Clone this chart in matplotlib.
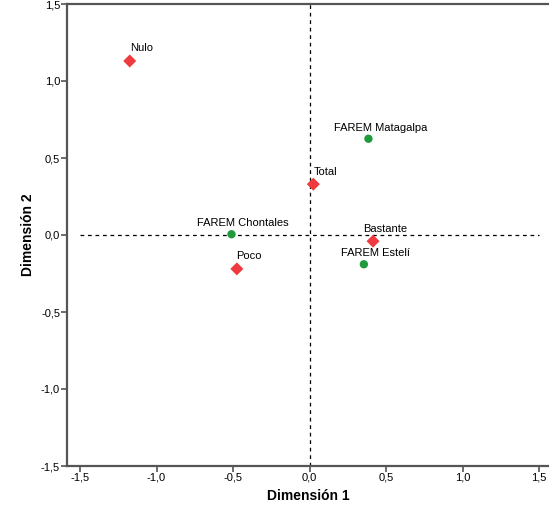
import matplotlib
matplotlib.use("Agg")
import matplotlib.pyplot as plt
from matplotlib.ticker import FuncFormatter

plt.rcParams['font.family'] = ['Liberation Sans', 'DejaVu Sans']

# Row points (red diamonds)
row_labels = ["Nulo", "Total", "Bastante", "Poco"]
row_x = [-1.175, 0.025, 0.415, -0.475]
row_y = [1.13, 0.33, -0.04, -0.22]

# Column points (green circles)
col_labels = ["FAREM Matagalpa", "FAREM Chontales", "FAREM Estelí"]
col_x = [0.385, -0.51, 0.355]
col_y = [0.625, 0.005, -0.19]

ticks = [-1.5, -1.0, -0.5, 0.0, 0.5, 1.0, 1.5]

fig = plt.figure(figsize=(5.49, 5.25), dpi=100)
ax = fig.add_axes([67/549, 59/525, 1 - 67/549, 462/525])

ax.set_xlim(-1.585, 1.565)
ax.set_ylim(-1.5, 1.5)

# reference lines
ax.plot([-1.5, 1.5], [0, 0], ls=(0, (3, 3)), color='black', lw=0.9, zorder=1)
ax.plot([0, 0], [-1.5, 1.5], ls=(0, (3, 3)), color='black', lw=0.9, zorder=1)

ax.scatter(row_x, row_y, marker='D', s=44, color='#ef3b3f', edgecolors='none', zorder=3)
ax.scatter(col_x, col_y, marker='o', s=36, color='#1f9a3c', edgecolors='none', zorder=3)

for lab, x, y in zip(row_labels, row_x, row_y):
    ax.annotate(lab, (x, y), xytext=(8.5, 9), textcoords='offset points',
                ha='center', va='center', fontsize=8, color='black')
for lab, x, y in zip(col_labels, col_x, col_y):
    ax.annotate(lab, (x, y), xytext=(8.5, 8), textcoords='offset points',
                ha='center', va='center', fontsize=8, color='black')

fmt = FuncFormatter(lambda v, p: f"{v:.1f}".replace('.', ','))
ax.set_xticks(ticks)
ax.set_yticks(ticks)
ax.xaxis.set_major_formatter(fmt)
ax.yaxis.set_major_formatter(fmt)
ax.tick_params(direction='out', length=4, width=1.2, color='#555555',
               labelsize=8, labelcolor='black', pad=1)

for side in ['left', 'top', 'bottom']:
    ax.spines[side].set_color('#555555')
    ax.spines[side].set_linewidth(1.6)
ax.spines['right'].set_visible(False)

ax.set_xlabel("Dimensión 1", fontsize=10, fontweight='bold', labelpad=4)
ax.set_ylabel("Dimensión 2", fontsize=10, fontweight='bold', labelpad=4)

fig.savefig("out.png", dpi=100)
